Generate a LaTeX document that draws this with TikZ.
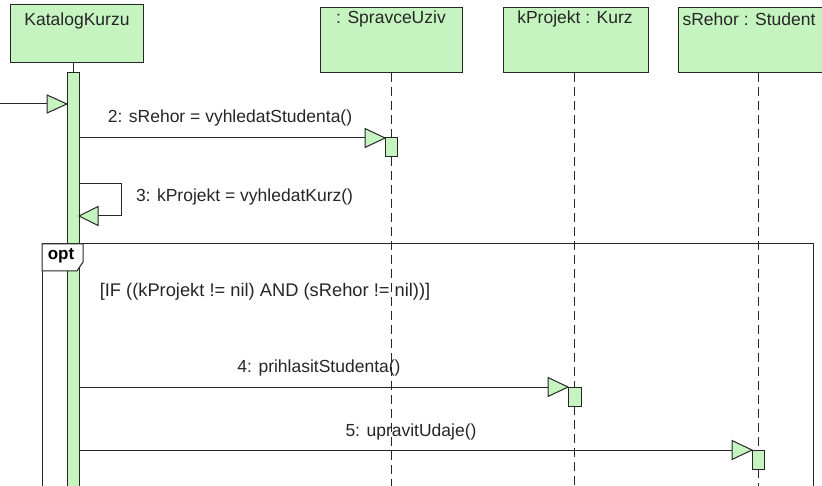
\documentclass[tikz,border=0pt]{standalone}
\usepackage{fontspec}
\setmainfont{Liberation Sans}
\begin{document}
\begin{tikzpicture}[x=1pt,y=-1pt,
  every node/.style={inner sep=0pt, outer sep=0pt},
  objbox/.style={draw=black!85, line width=1pt, fill=umlgreen, anchor=north west},
  actbar/.style={draw=black!85, line width=1pt, fill=umlgreen, anchor=north west, minimum width=12pt},
  lbl/.style={font=\fontsize{17.5pt}{20pt}\selectfont, text=black!85},
  life/.style={draw=black!85, line width=1pt, dash pattern=on 9pt off 5pt},
  msg/.style={draw=black!85, line width=1pt},
  head/.style={draw=black!85, line width=1pt, fill=umlgreen, line join=miter}
]
\definecolor{umlgreen}{RGB}{198,244,192}
\useasboundingbox (0,0) rectangle (822,486);
\begin{scope}
\clip (0,0) rectangle (822,486);
% objects
\node[objbox, minimum width=133pt, minimum height=58pt] (kk) at (10,5) {};
\node[lbl] (kkt) at (77,21) {KatalogKurzu};
\node[objbox, minimum width=142pt, minimum height=65pt] (sp) at (320,8) {};
\node[lbl] (spt) at (391,19) {: SpravceUziv};
\node[objbox, minimum width=145pt, minimum height=65pt] (kp) at (503,8) {};
\node[lbl] (kpt) at (575,19) {kProjekt : Kurz};
\node[objbox, minimum width=158pt, minimum height=65pt] (sr) at (678,8) {};
\node[lbl] (srt) at (749,19) {sRehor : Student};
% activation bars
\node[actbar, minimum height=430pt] (kka) at (67,73) {};
\node[actbar, minimum height=19pt] (spa) at (385,138) {};
\node[actbar, minimum width=13pt, minimum height=19pt] (kpa) at (568,387) {};
\node[actbar, minimum height=19pt] (sra) at (752,450) {};
% opt frame
\draw[line width=1pt, draw=black!85] (42,244) rectangle (813,520);
\draw[line width=1pt, draw=black!85, fill=white] (42,244) -- (83,244) -- (83,262) -- (77,271) -- (42,271) -- cycle;
\node[font=\fontsize{17pt}{19pt}\selectfont\bfseries] (optl) at (61,256) {opt};
\node[lbl, font=\fontsize{18.3pt}{21pt}\selectfont] (guard) at (265,292) {[IF ((kProjekt != nil) AND (sRehor != nil))]};
% lifelines
\draw[msg] (kk.south -| kka.center) -- (kka.north);
\draw[life] (sp.south -| spa.center) -- (spa.north);
\draw[life] (spa.south) -- (spa.center |- 0,490);
\draw[life] (kp.south -| kpa.center) -- (kpa.north);
\draw[life] (kpa.south) -- (kpa.center |- 0,490);
\draw[life] (sr.south -| sra.center) -- (sra.north);
\draw[life] (sra.south) -- (sra.center |- 0,490);
% message 1 (found)
\coordinate (m1s) at (0,104);
\draw[msg] (m1s) -- (kka.west |- m1s);
\draw[head] (kka.west |- m1s) -- ++(-20,-9) -- ++(0,18) -- cycle;
% message 2
\draw[msg] (kka.east |- spa.north) -- (spa.north west);
\draw[head] (spa.north west) -- ++(-20,-9.5) -- ++(0,19) -- cycle;
\node[lbl] (m2) at (230,118) {2: sRehor = vyhledatStudenta()};
% message 3 (self)
\coordinate (m3a) at (121,184);
\coordinate (m3b) at (121,216);
\draw[msg] (kka.east |- m3a) -- (m3a) -- (m3b) -- (kka.east |- m3b);
\draw[head] (kka.east |- m3b) -- ++(19,-9.5) -- ++(0,19) -- cycle;
\node[lbl, anchor=west] (m3) at (136,197) {3: kProjekt = vyhledatKurz()};
% message 4
\draw[msg] (kka.east |- kpa.north) -- (kpa.north west);
\draw[head] (kpa.north west) -- ++(-20,-9.5) -- ++(0,19) -- cycle;
\node[lbl] (m4) at (319,368) {4: prihlasitStudenta()};
% message 5
\draw[msg] (kka.east |- sra.north) -- (sra.north west);
\draw[head] (sra.north west) -- ++(-20,-9.5) -- ++(0,19) -- cycle;
\node[lbl] (m5) at (411,432) {5: upravitUdaje()};
\end{scope}
\end{tikzpicture}
\end{document}
